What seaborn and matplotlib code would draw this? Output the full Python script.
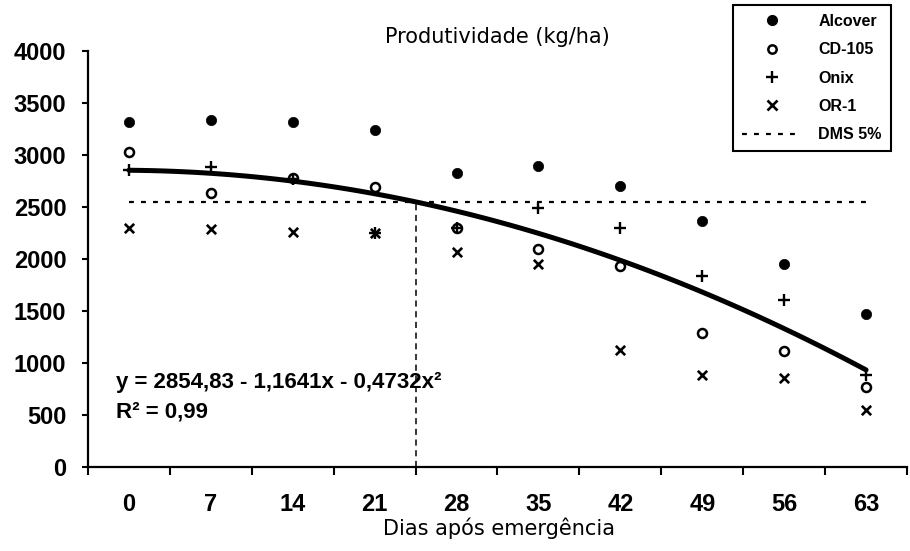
import numpy as np
import pandas as pd
import seaborn as sns
import matplotlib.pyplot as plt
from matplotlib.lines import Line2D

# values
days = [0, 7, 14, 21, 28, 35, 42, 49, 56, 63]
alcover = [3320, 3337, 3314, 3240, 2824, 2894, 2702, 2368, 1949, 1471]
cd105 = [3026, 2638, 2776, 2696, 2301, 2093, 1933, 1285, 1115, 766]
onix = [2856, 2888, 2770, 2253, 2300, 2487, 2301, 1839, 1606, 885]
or1 = [2301, 2288, 2262, 2253, 2070, 1952, 1125, 885, 859, 548]
dms = 2550
dms_day = 24.5
eq_text = "y = 2854,83 - 1,1641x - 0,4732x²"
r2_text = "R² = 0,99"

df = pd.DataFrame({"Dias": days * 4,
                   "Prod": alcover + cd105 + onix + or1,
                   "Cultivar": ["Alcover"] * 10 + ["CD-105"] * 10 + ["Onix"] * 10 + ["OR-1"] * 10})

sns.set_style("ticks")
plt.rcParams["font.family"] = ["DejaVu Sans"]
for key in ["text.color", "axes.labelcolor", "xtick.color", "ytick.color", "axes.edgecolor"]:
    plt.rcParams[key] = "black"
bold = dict(family="Liberation Sans", weight="bold")

fig = plt.figure(figsize=(9.1, 5.51), dpi=100)
ax = fig.add_axes([88 / 910, 84 / 551, 819 / 910, 416 / 551])

styles = {"Alcover": dict(marker="o", s=55, color="black", edgecolor="black", linewidth=0.5),
          "CD-105": dict(marker="o", s=42, color="white", edgecolor="black", linewidth=1.8),
          "Onix": dict(marker="+", s=75, color="black", linewidth=1.7),
          "OR-1": dict(marker="x", s=45, color="black", linewidth=1.9)}
for name, kw in styles.items():
    sub = df[df["Cultivar"] == name]
    sns.scatterplot(data=sub, x="Dias", y="Prod", ax=ax, zorder=3, legend=False, **kw)

# quadratic trend of all cultivars
sns.regplot(data=df, x="Dias", y="Prod", order=2, ci=None, scatter=False, truncate=True,
            ax=ax, line_kws=dict(color="black", lw=3.6, zorder=4))

ax.plot([days[0], days[-1]], [dms, dms], color="black", lw=1.6, ls=(0, (2.2, 3.2)), zorder=2)
ax.plot([dms_day, dms_day], [0, dms], color="black", lw=1.1, ls=(0, (4, 3)), zorder=2)

ax.set_xlim(-3.5, 66.5)
ax.set_ylim(0, 4000)
ax.set_xticks(np.arange(-3.5, 67, 7))
ax.set_xticklabels([])
ax.set_xticks(days, minor=True)
ax.set_xticklabels([str(d) for d in days], minor=True, fontsize=17, **bold)
ax.tick_params(axis="x", which="major", direction="out", length=6, width=1.5)
ax.tick_params(axis="x", which="minor", length=0, pad=19)
ax.set_yticks(np.arange(0, 4001, 500))
ax.set_yticklabels([str(v) for v in range(0, 4001, 500)], fontsize=17, **bold)
ax.tick_params(axis="y", direction="out", length=4.5, width=1.5, pad=11)
sns.despine(ax=ax)
for sp in ["left", "bottom"]:
    ax.spines[sp].set_linewidth(1.6)
ax.set_xlabel("")
ax.set_ylabel("")

ax.text(-1.1, 760, eq_text, fontsize=16, va="baseline", **bold)
ax.text(-1.1, 480, r2_text, fontsize=16, va="baseline", **bold)

fig.text(497 / 910, 1 - 43 / 551, "Produtividade (kg/ha)", fontsize=15, ha="center", va="baseline")
fig.text(499 / 910, 1 - 535 / 551, "Dias após emergência", fontsize=15, ha="center", va="baseline")

handles = [Line2D([], [], ls="none", marker="o", ms=7, color="black"),
           Line2D([], [], ls="none", marker="o", ms=6, mfc="white", mec="black", mew=1.8),
           Line2D([], [], ls="none", marker="+", ms=8, color="black", mew=1.7),
           Line2D([], [], ls="none", marker="x", ms=6.5, color="black", mew=1.9),
           Line2D([], [], color="black", lw=1.6, ls=(0, (2.2, 3.2)))]
labels = ["Alcover", "CD-105", "Onix", "OR-1", "DMS 5%"]
leg = fig.legend(handles, labels, loc="upper left", bbox_to_anchor=(733 / 910, 1 - 5 / 551),
                 frameon=True, fancybox=False, edgecolor="black", framealpha=1,
                 prop=dict(family="Liberation Sans", weight="bold", size=11.5),
                 handlelength=3.8, handletextpad=1.0, labelspacing=0.84, borderpad=0.55,
                 borderaxespad=0)
leg.get_frame().set_linewidth(1.5)

fig.savefig("out.png", dpi=100)
